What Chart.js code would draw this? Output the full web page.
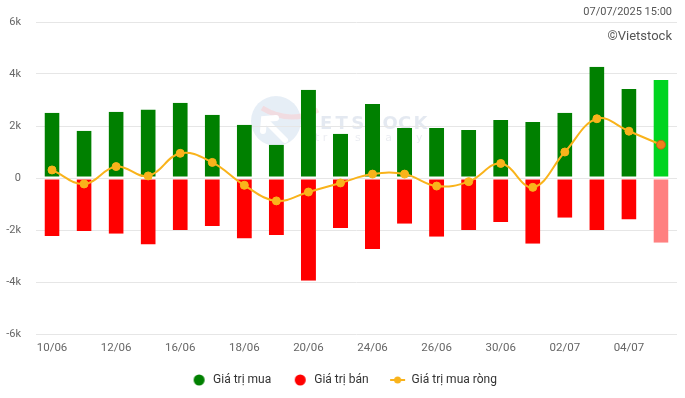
<!DOCTYPE html>
<html>
<head>
<meta charset="utf-8">
<script src="https://cdn.jsdelivr.net/npm/chart.js@4/dist/chart.umd.min.js"></script>
<style>
  html,body{margin:0;padding:0;background:#fff;}
  #wrap{position:relative;width:685px;height:398px;font-family:Roboto, "Liberation Sans", sans-serif;}
  #stamp{position:absolute;right:13px;top:5px;font-size:11px;color:#555;}
  #copy{position:absolute;right:13px;top:28px;font-size:13px;color:#555;}
  canvas{display:block;}
</style>
</head>
<body>
<div id="wrap">
  <canvas id="c" width="685" height="398"></canvas>
  <div id="stamp">07/07/2025 15:00</div>
  <div id="copy">©Vietstock</div>
</div>
<script>
const categories = ["10/06","11/06","12/06","13/06","16/06","17/06","18/06","19/06","20/06","23/06",
                    "24/06","25/06","26/06","27/06","30/06","01/07","02/07","03/07","04/07","07/07"];
const buyValues  = [2510,1820,2550,2630,2890,2430,2050,1280,3390,1700,
                    2850,1920,1920,1850,2230,2150,2510,4280,3420,3770];
const sellValues = [-2230,-2040,-2140,-2560,-2000,-1850,-2330,-2190,-3950,-1920,
                    -2730,-1760,-2260,-2000,-1690,-2530,-1530,-2000,-1600,-2490];
const netValues  = [310,-230,440,80,950,600,-280,-880,-540,-190,
                    150,150,-310,-140,560,-360,1000,2280,1800,1280];
const yTicks = [-6000,-4000,-2000,0,2000,4000,6000];
const seriesNames = ["Giá trị mua","Giá trị bán","Giá trị mua ròng"];

const GREEN="#008000", GREEN_LAST="#00d41f", RED="#ff0000", RED_LAST="#ff8080", ORANGE="#f9b31b";
const n = categories.length;
const buyColors = categories.map((_,i)=> i===n-1 ? GREEN_LAST : GREEN);
const sellColors = categories.map((_,i)=> i===n-1 ? RED_LAST : RED);
const ptColors = categories.map((_,i)=> i===n-1 ? "#f07f1a" : ORANGE);
const ptBorders = categories.map((_,i)=> i===n-1 ? "#c0601a" : ORANGE);
const ptRadius = categories.map((_,i)=> i===n-1 ? 4.5 : 4);

function icon(kind,color){
  const c=document.createElement('canvas');
  c.width=38;c.height=14;
  const x=c.getContext('2d');
  const cx=24.5, cy=7;
  if(kind==='circle'){
    x.fillStyle=color;x.beginPath();x.arc(cx,cy,5.5,0,Math.PI*2);x.fill();
  } else {
    x.strokeStyle=color;x.lineWidth=2;x.beginPath();x.moveTo(cx-7.5,cy);x.lineTo(cx+7.5,cy);x.stroke();
    x.fillStyle=color;x.beginPath();x.arc(cx,cy,3.5,0,Math.PI*2);x.fill();
  }
  return c;
}
const legendIcons=[icon('circle',GREEN),icon('circle',RED),icon('line',ORANGE)];

const watermark={
  id:'watermark',
  beforeDraw(chart){
    const ctx=chart.ctx;ctx.save();
    ctx.fillStyle='rgba(214,226,240,0.6)';
    ctx.beginPath();ctx.arc(276,121,25,0,Math.PI*2);ctx.fill();
    ctx.strokeStyle='rgba(255,200,200,0.45)';ctx.lineWidth=5;
    ctx.beginPath();ctx.moveTo(262,108);ctx.quadraticCurveTo(290,125,318,110);ctx.stroke();
    ctx.strokeStyle='#ffffff';ctx.lineWidth=6;ctx.lineCap='round';
    ctx.beginPath();ctx.moveTo(285,140);ctx.lineTo(266,121);ctx.stroke();
    ctx.beginPath();ctx.moveTo(263,131);ctx.lineTo(264,119);ctx.lineTo(276,118);ctx.stroke();
    ctx.font='bold 18px "DejaVu Sans", sans-serif';
    ctx.fillStyle='rgba(205,215,230,0.55)';
    ctx.textBaseline='alphabetic';
    const t="ETSTOCK";
    for(let i=0;i<t.length;i++) ctx.fillText(t[i],320+i*15.6,129);
    ctx.font='11px "DejaVu Sans", sans-serif';
    ctx.fillStyle='rgba(215,220,230,0.5)';
    ctx.fillText("tr e s   a l y s".split('').join(' '),315,141);
    ctx.restore();
  }
};

new Chart(document.getElementById('c'),{
  data:{
    labels:categories,
    datasets:[
      {type:'bar',label:seriesNames[0],data:buyValues,backgroundColor:buyColors,
       borderColor:'#ffffff',borderWidth:{top:0,left:0,right:0,bottom:1},borderSkipped:false,
       barPercentage:0.47,categoryPercentage:1,order:2},
      {type:'bar',label:seriesNames[1],data:sellValues,backgroundColor:sellColors,
       borderColor:'#ffffff',borderWidth:{top:1,left:0,right:0,bottom:0},borderSkipped:false,
       barPercentage:0.47,categoryPercentage:1,order:2},
      {type:'line',label:seriesNames[2],data:netValues,borderColor:ORANGE,backgroundColor:ORANGE,
       borderWidth:2,tension:0.4,pointRadius:ptRadius,pointBackgroundColor:ptColors,
       pointBorderColor:ptBorders,pointBorderWidth:1,order:0}
    ]
  },
  options:{
    responsive:false,animation:false,
    layout:{padding:{top:22,right:8,left:0,bottom:2}},
    plugins:{
      tooltip:{enabled:false},
      legend:{position:'bottom',
        labels:{usePointStyle:true,pointStyleWidth:27,boxWidth:27,boxHeight:12,padding:10,color:'#333',
          font:{family:'Roboto',size:12},
          generateLabels(chart){
            const items=Chart.defaults.plugins.legend.labels.generateLabels(chart);
            items.sort((a,b)=>a.datasetIndex-b.datasetIndex);
            items.forEach(it=>{it.pointStyle=legendIcons[it.datasetIndex];});
            return items;
          }}}
    },
    scales:{
      x:{stacked:true,grid:{display:false,drawTicks:false},border:{display:false},
         afterFit(s){s.height=30;},
         ticks:{autoSkip:false,maxRotation:0,padding:7,color:'#666',font:{family:'Roboto',size:11.5},
           callback(v,i){return i%2===0?categories[i]:'';}}},
      y:{min:yTicks[0],max:yTicks[yTicks.length-1],
         afterBuildTicks(s){s.ticks=yTicks.map(v=>({value:v}));},
         afterFit(s){s.width=36;},
         grid:{color:'#e6e6e6',drawTicks:false},border:{display:false},
         ticks:{padding:15,color:'#666',font:{family:'Roboto',size:11},
           callback(v){return v===0?'0':(v/1000)+'k';}}}
    }
  },
  plugins:[watermark]
});
</script>
</body>
</html>
